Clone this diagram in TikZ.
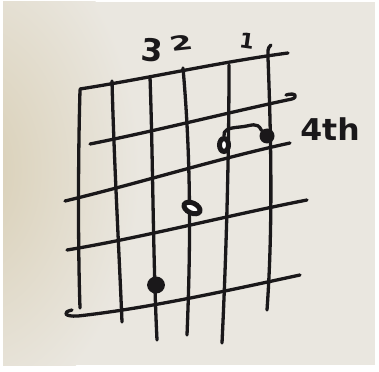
\documentclass[tikz,border=0pt]{standalone}
\usepackage{fontspec}
\setmainfont{DejaVu Sans}
\usetikzlibrary{shapes.geometric}
\definecolor{inkc}{RGB}{26,24,26}
\definecolor{paper}{RGB}{234,231,224}
\definecolor{stain}{RGB}{216,206,180}
\begin{document}
\begin{tikzpicture}[x=1pt,y=-1pt,
  ink/.style={draw=inkc, line width=3.3pt, line cap=round, line join=round},
  hand/.style={text=inkc, inner sep=0pt},
  fulldot/.style={circle, fill=inkc, draw=none, inner sep=0pt},
  opendot/.style={ellipse, draw=inkc, fill=white, line width=5pt, inner sep=0pt}]
\useasboundingbox (0,0) rectangle (379,371);
\fill[white] (0,0) rectangle (379,371);
\fill[paper] (3,2) rectangle (375,365);
\begin{scope}
  \clip (3,2) rectangle (375,365);
  \shade[inner color=stain, outer color=paper] (-30,170) ellipse (170 and 250);
\end{scope}
% strings
\draw[ink] (80,90) .. controls (78,160) and (78,250) .. (80,308);
\draw[ink] (112,81) .. controls (114,160) and (119,250) .. (122,322);
\draw[ink] (150,77) .. controls (153,160) and (153,260) .. (157,340);
\draw[ink] (183,68) .. controls (192,170) and (190,260) .. (187,335);
\draw[ink] (229,65) .. controls (229,160) and (226,260) .. (222,343);
\draw[ink] (271,45) .. controls (267,48) and (268,52) .. (268,58) .. controls (272,160) and (272,240) .. (267,310);
% frets
\draw[ink] (80,89) .. controls (150,78) and (220,62) .. (288,53);
\draw[ink] (90,144) .. controls (160,130) and (230,112) .. (292,99) .. controls (298,97) and (296,92) .. (286,95);
\draw[ink] (65,201) .. controls (140,183) and (220,158) .. (290,143);
\draw[ink] (67,250) .. controls (140,238) and (230,215) .. (307,200);
\draw[ink] (72,310) .. controls (62,312) and (64,317) .. (78,316) .. controls (150,308) and (230,290) .. (300,275);
% dots
\node[opendot, minimum width=9pt, minimum height=13pt] (r5) at (224,145) {};
\node[fulldot, minimum size=15pt] (f6) at (267,136) {};
\draw[ink] (r5.north) .. controls (223,130) and (228,128) .. (240,127) .. controls (252,126) and (257,121) .. (f6.north west);
\node[opendot, minimum width=17pt, minimum height=10pt, rotate=-25] (r4) at (192,208) {};
\node[fulldot, minimum size=17pt, xscale=1.05] (f3) at (156,285) {};
% labels
\node[hand, font=\bfseries\fontsize{31}{31}\selectfont, rotate=-5] (t3) at (152,50) {3};
\node[hand, font=\bfseries\fontsize{20}{20}\selectfont, xscale=1.6, rotate=10] (t2) at (181,43) {2};
\node[hand, font=\bfseries\fontsize{21}{21}\selectfont, rotate=-8] (t1) at (247,41) {1};
\node[hand, font=\bfseries\fontsize{30}{30}\selectfont, xscale=1.05] (t4) at (330,129) {4th};
\end{tikzpicture}
\end{document}
